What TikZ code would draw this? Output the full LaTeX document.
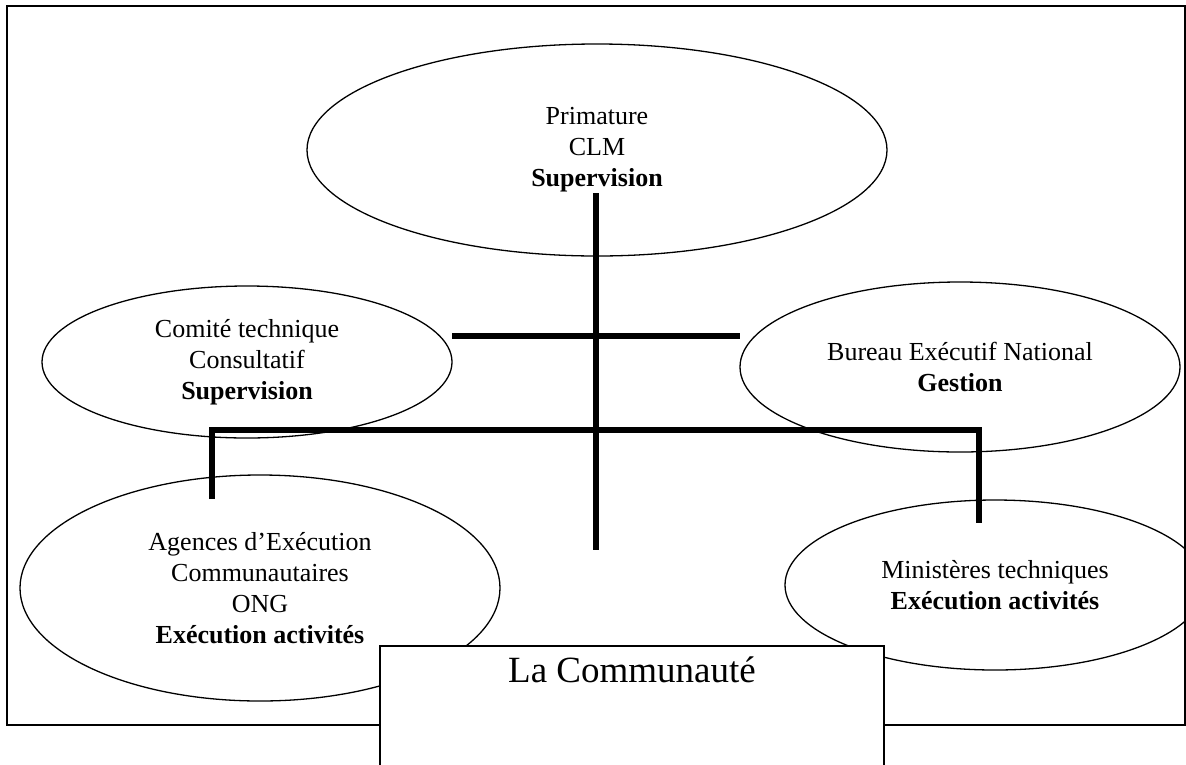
\documentclass[tikz,border=0pt]{standalone}
\usepackage{fontspec}
\setmainfont{Liberation Serif}
\usetikzlibrary{shapes.geometric,positioning}
\tikzset{
    unit/.style={draw, ellipse, line width=1.3pt, align=center, inner sep=0pt,
                 font=\fontsize{26}{31}\selectfont},
    link/.style={line width=6pt},
    frame/.style={line width=2pt},
    community/.style={draw, fill=white, line width=2pt, minimum width=504pt, minimum height=140pt}
}

\begin{document}
\begin{tikzpicture}[x=1pt, y=-1pt]
            \useasboundingbox (0,0) rectangle (1186,764);
            \clip (0,0) rectangle (1186,764);
            \draw[frame] (7,6) rectangle (1185,725);

            \node[unit, minimum width=580pt, minimum height=212pt] (prim) at (597,150)
                {Primature\\CLM\\\textbf{Supervision}};
            \node[unit, minimum width=410pt, minimum height=152pt] (comite) at (247,362)
                {Comité technique\\Consultatif\\\textbf{Supervision}};
            \node[unit, minimum width=440pt, minimum height=170pt] (bureau) at (960,367)
                {Bureau Exécutif National\\\textbf{Gestion}};
            \node[unit, minimum width=480pt, minimum height=226pt] (agences) at (260,588)
                {Agences d’Exécution\\Communautaires\\ONG\\\textbf{Exécution activités}};
            \node[unit, minimum width=420pt, minimum height=170pt] (minist) at (995,585)
                {Ministères techniques\\\textbf{Exécution activités}};

            % liaisons
            \coordinate (vtop) at (596,193);
            \coordinate (vbot) at (596,550);
            \coordinate (hl) at (452,336);
            \coordinate (hr) at (740,336);
            \coordinate (bl) at (212,499);
            \coordinate (barl) at (212,430);
            \coordinate (barr) at (979,430);
            \coordinate (br) at (979,523);
            \draw[link] (vtop) -- (vbot);
            \draw[link] (hl) -- (hr);
            \draw[link] (bl) -- (barl) -- (barr) -- (br);

            \node[community, anchor=north] (comm) at (632,645) {};
            \node[font=\fontsize{37}{42}\selectfont, below=8pt of comm.north] (commtext) {La Communauté};
        \end{tikzpicture}
\end{document}
